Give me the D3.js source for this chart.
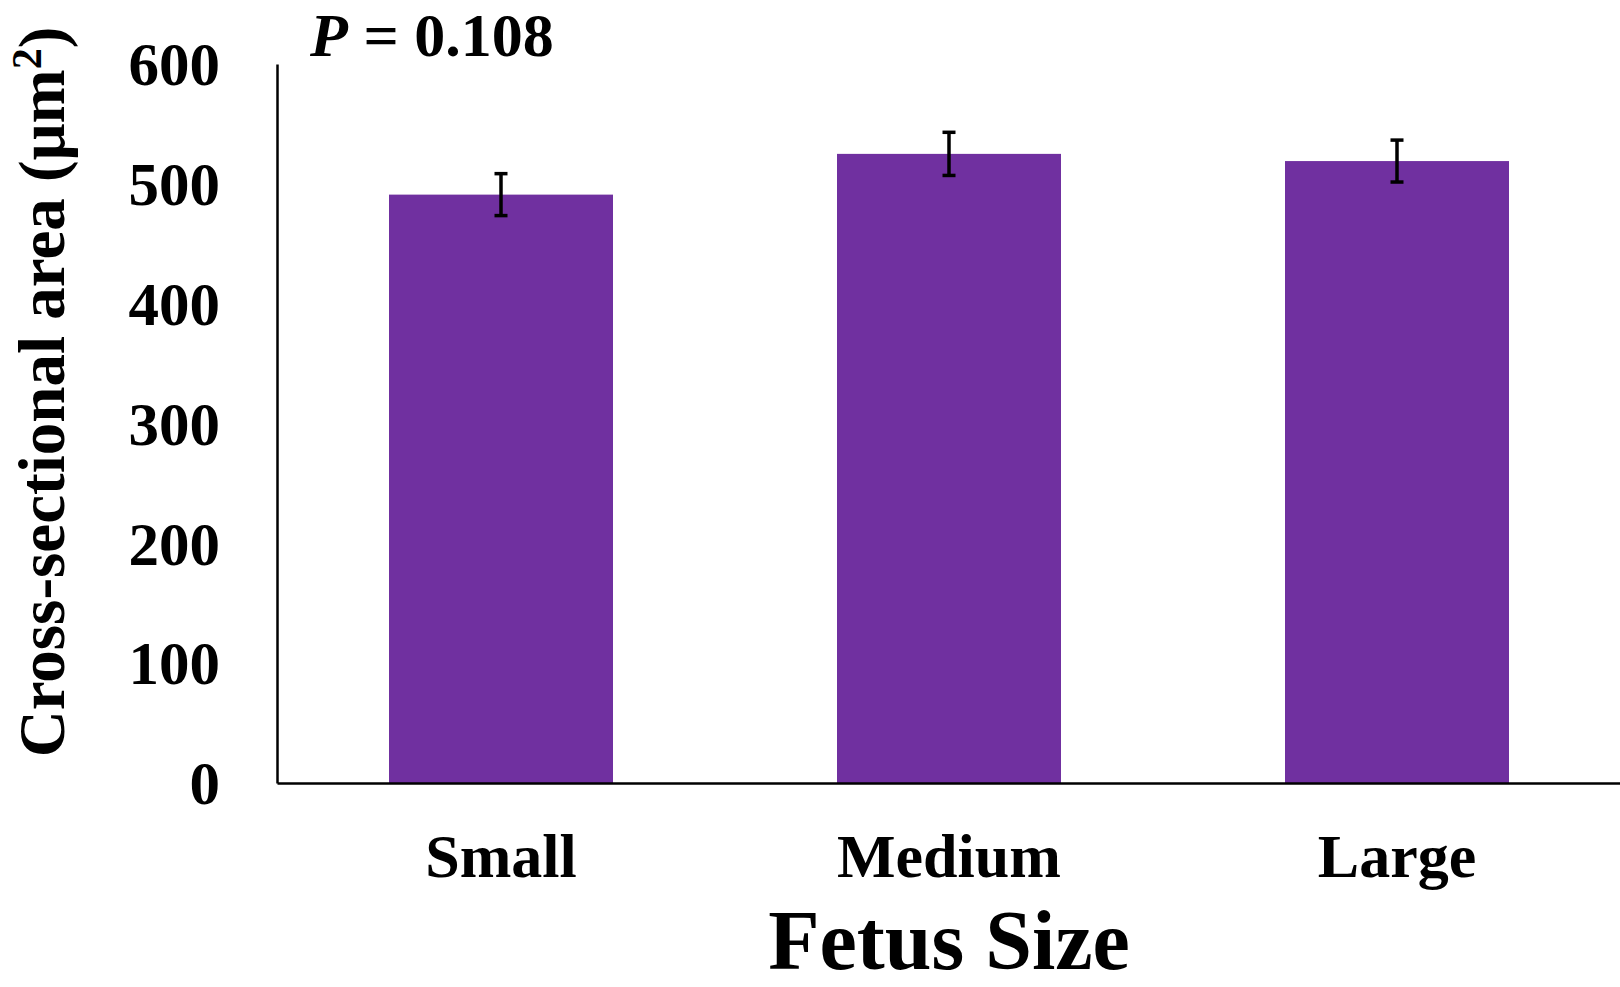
<!DOCTYPE html>
<html><head><meta charset="utf-8">
<script src="https://cdn.jsdelivr.net/npm/d3@7"></script>
<style>html,body{margin:0;padding:0;background:#fff;overflow:hidden}</style>
</head><body>
<svg id="c" width="1620" height="987"></svg>
<script>
const categories = ["Small", "Medium", "Large"];
const values = [491, 525, 519];
const errors = [17.5, 18, 17.5];
const yTicks = [0, 100, 200, 300, 400, 500, 600];
const pLabel = "0.108";

const svg = d3.select("#c");
const font = "'Liberation Serif','Times New Roman',serif";
const m = {left: 277, top: 64, bottom: 783, right: 1621};

const x = d3.scaleBand().domain(categories).range([m.left, m.right]).paddingInner(0.5).paddingOuter(0.25);
const y = d3.scaleLinear().domain([0, 600]).range([m.bottom, m.top]);

// bars
svg.selectAll("rect.bar").data(categories).enter().append("rect")
  .attr("x", d => x(d)).attr("width", x.bandwidth())
  .attr("y", (d,i) => y(values[i])).attr("height", (d,i) => y(0) - y(values[i]))
  .attr("fill", "#7030A0");

// error bars
const eb = svg.append("g").attr("stroke", "#000").attr("stroke-width", 3.5);
categories.forEach((c, i) => {
  const cx = x(c) + x.bandwidth()/2;
  const hi = y(values[i] + errors[i]), lo = y(values[i] - errors[i]);
  eb.append("line").attr("x1", cx).attr("x2", cx).attr("y1", hi).attr("y2", lo);
  eb.append("line").attr("x1", cx-6.5).attr("x2", cx+6.5).attr("y1", hi).attr("y2", hi);
  eb.append("line").attr("x1", cx-6.5).attr("x2", cx+6.5).attr("y1", lo).attr("y2", lo);
});

// y axis
const ya = svg.append("g").attr("transform", `translate(${m.left},0)`)
  .call(d3.axisLeft(y).tickValues(yTicks).tickSize(0).tickPadding(57).tickFormat(d3.format("d")));
ya.select(".domain").attr("stroke", "#000").attr("stroke-width", 2.5);
ya.selectAll("text").attr("font-family", font).attr("font-weight", "bold").attr("font-size", 61).attr("fill", "#000").attr("dy", "0.34em");

// x axis
const xa = svg.append("g").attr("transform", `translate(0,${m.bottom})`)
  .call(d3.axisBottom(x).tickSize(0).tickPadding(50));
xa.select(".domain").attr("stroke", "#000").attr("stroke-width", 2.5);
xa.selectAll("text").attr("font-family", font).attr("font-weight", "bold").attr("font-size", 62).attr("fill", "#000");

// axis titles
svg.append("text").attr("x", 949).attr("y", 969).attr("text-anchor", "middle")
  .attr("font-family", font).attr("font-weight", "bold").attr("font-size", 84).text("Fetus Size");

const yt = svg.append("text").attr("transform", "translate(64,392) rotate(-90)").attr("text-anchor", "middle")
  .attr("font-family", font).attr("font-weight", "bold").attr("font-size", 65);
yt.append("tspan").text("Cross-sectional area (μm");
yt.append("tspan").attr("font-size", 42).attr("dy", -23).text("2");
yt.append("tspan").attr("dy", 23).text(")");

// P value
const pt = svg.append("text").attr("x", 310).attr("y", 56)
  .attr("font-family", font).attr("font-weight", "bold").attr("font-size", 62);
pt.append("tspan").attr("font-style", "italic").text("P");
pt.append("tspan").text(" = " + pLabel);
</script>
</body></html>
